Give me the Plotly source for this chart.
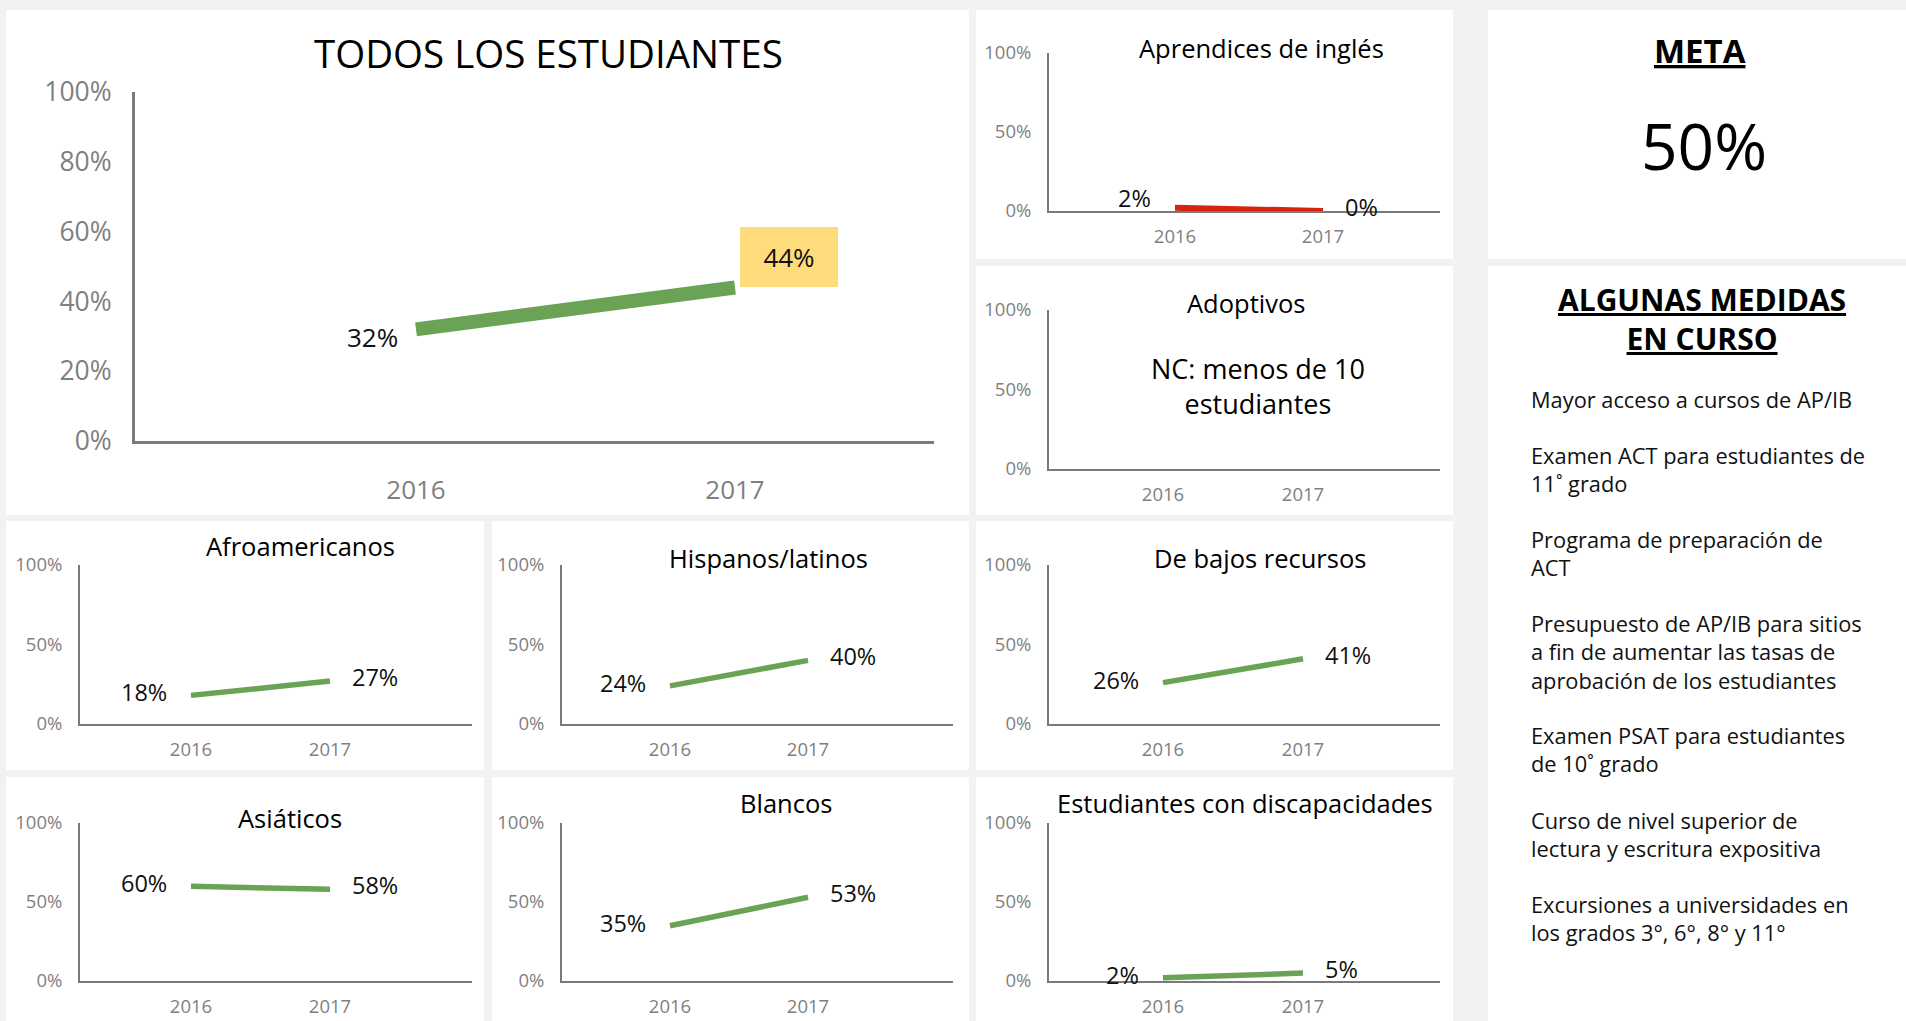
import plotly.graph_objects as go

W, H = 1906, 1021
FONT = "Open Sans"

# ---------------- data ----------------
years = [2016, 2017]
year_labels = ["2016", "2017"]
all_students = [0.32, 0.44]
english_learners = [0.02, 0.00]
afroamericanos = [0.18, 0.27]
hispanos = [0.24, 0.40]
bajos_recursos = [0.26, 0.41]
asiaticos = [0.60, 0.58]
blancos = [0.35, 0.53]
discapacidades = [0.02, 0.05]

main_title = "TODOS LOS ESTUDIANTES"
small_titles = {
    "el": "Aprendices de inglés",
    "adopt": "Adoptivos",
    "afro": "Afroamericanos",
    "hisp": "Hispanos/latinos",
    "low": "De bajos recursos",
    "asia": "Asiáticos",
    "white": "Blancos",
    "disab": "Estudiantes con discapacidades",
}
adopt_note = ["NC: menos de 10", "estudiantes"]
goal_title = "META"
goal_value = "50%"
measures_title = ["ALGUNAS MEDIDAS", "EN CURSO"]
measures = [
    ["Mayor acceso a cursos de AP/IB"],
    ["Examen ACT para estudiantes de", "11˚ grado"],
    ["Programa de preparación de", "ACT"],
    ["Presupuesto de AP/IB para sitios", "a fin de aumentar las tasas de", "aprobación de los estudiantes"],
    ["Examen PSAT para estudiantes", "de 10˚ grado"],
    ["Curso de nivel superior de", "lectura y escritura expositiva"],
    ["Excursiones a universidades en", "los grados 3°, 6°, 8° y 11°"],
]

GREEN = "#6aa355"
RED = "#d8230e"
AXIS = "#7a7a7a"
TICK = "#7f7f7f"
BG = "#f2f2f2"

fig = go.Figure()
shapes = []
annotations = []


def fx(p):
    return p / W


def fy(p):
    return 1 - p / H


# white panels
panels = [
    (6, 10, 969, 515),
    (976, 10, 1453, 259), (976, 266, 1453, 515),
    (6, 521, 484, 770), (492, 521, 969, 770), (976, 521, 1453, 770),
    (6, 777, 484, 1021), (492, 777, 969, 1021), (976, 777, 1453, 1021),
    (1488, 10, 1906, 259), (1488, 266, 1906, 1021),
]
for x0, y0, x1, y1 in panels:
    shapes.append(dict(type="rect", xref="paper", yref="paper", x0=fx(x0), x1=fx(x1),
                       y0=fy(y1), y1=fy(y0), fillcolor="white", line=dict(width=0), layer="below"))

counter = [0]


def add_chart(vals, g, color, lw, ytick_vals, tick_size, xtick_size, axis_w,
              ystand, xstand, label_size=23.5, labels=True, first_dy=3):
    counter[0] += 1
    n = counter[0]
    xa = "x" if n == 1 else f"x{n}"
    ya = "y" if n == 1 else f"y{n}"
    unit = (g["p1"] - g["p0"]) / (years[1] - years[0])
    xmin = years[0] - (g["p0"] - g["left"]) / unit
    xmax = years[0] + (g["right"] - g["p0"]) / unit
    if vals is not None:
        fig.add_trace(go.Scatter(x=years, y=vals, mode="lines", xaxis=xa, yaxis=ya,
                                 line=dict(color=color, width=lw), showlegend=False,
                                 hoverinfo="skip"))
    else:
        fig.add_trace(go.Scatter(x=[], y=[], xaxis=xa, yaxis=ya, showlegend=False))
    xkey = "xaxis" if n == 1 else f"xaxis{n}"
    ykey = "yaxis" if n == 1 else f"yaxis{n}"
    fig.layout[xkey] = dict(domain=[fx(g["left"]), fx(g["right"])], range=[xmin, xmax],
                            anchor=ya, showline=True, linecolor=AXIS, linewidth=axis_w,
                            showgrid=False, zeroline=False, ticks="", automargin=False,
                            tickvals=years, ticktext=year_labels,
                            tickfont=dict(family=FONT, size=xtick_size, color=TICK),
                            ticklabelstandoff=xstand, fixedrange=True)
    fig.layout[ykey] = dict(domain=[fy(g["bottom"]), fy(g["top"])], range=[0, 1],
                            anchor=xa, showline=True, linecolor=AXIS, linewidth=axis_w,
                            showgrid=False, zeroline=False, ticks="", automargin=False,
                            tickvals=ytick_vals, tickformat=".0%",
                            tickfont=dict(family=FONT, size=tick_size, color=TICK),
                            ticklabelstandoff=ystand, fixedrange=True)
    if vals is not None and labels:
        annotations.append(dict(xref=xa, yref=ya, x=years[0], y=vals[0],
                                text=f"{round(vals[0] * 100)}%", showarrow=False,
                                xanchor="right", yanchor="middle", xshift=-22, yshift=first_dy,
                                font=dict(family=FONT, size=label_size, color="#111")))
        annotations.append(dict(xref=xa, yref=ya, x=years[1], y=vals[1],
                                text=f"{round(vals[1] * 100)}%", showarrow=False,
                                xanchor="left", yanchor="middle", xshift=20, yshift=4,
                                font=dict(family=FONT, size=label_size, color="#111")))
    return xa, ya


# ---- main chart ----
main_g = dict(left=135, right=934, top=92, bottom=441, p0=416, p1=735)
mxa, mya = add_chart(all_students, main_g, GREEN, 14, [0, 0.2, 0.4, 0.6, 0.8, 1.0],
                     26.5, 26, 3, 15, 24, labels=False)
annotations.append(dict(xref=mxa, yref=mya, x=years[0], y=all_students[0],
                        text=f"{round(all_students[0] * 100)}%", showarrow=False,
                        xanchor="right", yanchor="middle", xshift=-16, yshift=-8,
                        font=dict(family=FONT, size=26, color="#111")))
annotations.append(dict(xref=mxa, yref=mya, x=years[1], y=all_students[1],
                        text=f"{round(all_students[1] * 100)}%", showarrow=False,
                        xanchor="left", yanchor="middle", xshift=5, yshift=30,
                        width=98, height=60, bgcolor="#ffdc7b", borderwidth=0, borderpad=0,
                        font=dict(family=FONT, size=26, color="#111")))
annotations.append(dict(xref="paper", yref="paper", x=fx(548), y=fy(53), text=main_title,
                        showarrow=False, xanchor="center", yanchor="middle",
                        font=dict(family=FONT, size=38.5, color="#000")))

# ---- small charts ----
colA = dict(left=80, right=472, p0=191, p1=330)
colB = dict(left=562, right=953, p0=670, p1=808)
colC = dict(left=1049, right=1440, p0=1163, p1=1303)
colC_el = dict(left=1049, right=1440, p0=1175, p1=1323)
row1 = dict(top=53, bottom=211)
row2 = dict(top=310, bottom=469)
row3 = dict(top=565, bottom=724)
row4 = dict(top=823, bottom=981)

small = [
    (english_learners, {**colC_el, **row1}, RED, 6, "el", (1261, 48), 10),
    (None, {**colC, **row2}, GREEN, 5.5, "adopt", (1246, 303), 3),
    (afroamericanos, {**colA, **row3}, GREEN, 5.5, "afro", (300, 546), 3),
    (hispanos, {**colB, **row3}, GREEN, 5.5, "hisp", (768, 558), 3),
    (bajos_recursos, {**colC, **row3}, GREEN, 5.5, "low", (1260, 558), 3),
    (asiaticos, {**colA, **row4}, GREEN, 5.5, "asia", (290, 818), 3),
    (blancos, {**colB, **row4}, GREEN, 5.5, "white", (786, 803), 3),
    (discapacidades, {**colC, **row4}, GREEN, 5.5, "disab", (1245, 803), 3),
]
for vals, g, col, lw, key, (tx, ty), dy in small:
    add_chart(vals, g, col, lw, [0, 0.5, 1.0], 18.5, 18.5, 2, 12, 8, first_dy=dy)
    annotations.append(dict(xref="paper", yref="paper", x=fx(tx), y=fy(ty), text=small_titles[key],
                            showarrow=False, xanchor="center", yanchor="middle",
                            font=dict(family=FONT, size=25.5, color="#000")))

annotations.append(dict(xref="paper", yref="paper", x=fx(1258), y=fy(385.5),
                        text="<br>".join(adopt_note), showarrow=False,
                        xanchor="center", yanchor="middle", align="center",
                        font=dict(family=FONT, size=27, color="#000")))

# ---- right column ----
annotations.append(dict(xref="paper", yref="paper", x=fx(1700), y=fy(51),
                        text=f"<b><u>{goal_title}</u></b>", showarrow=False,
                        xanchor="center", yanchor="middle",
                        font=dict(family=FONT, size=33, color="#000")))
annotations.append(dict(xref="paper", yref="paper", x=fx(1704), y=fy(145), text=goal_value,
                        showarrow=False, xanchor="center", yanchor="middle",
                        font=dict(family=FONT, size=64, color="#000")))
annotations.append(dict(xref="paper", yref="paper", x=fx(1702), y=fy(319),
                        text="<br>".join(f"<b><u>{t}</u></b>" for t in measures_title),
                        showarrow=False, xanchor="center", yanchor="middle", align="center",
                        font=dict(family=FONT, size=30, color="#000")))
MS = 21.8
LH = MS * 1.3
k = 0
for item in measures:
    top = 398 + 28.05 * k - LH / 2
    annotations.append(dict(xref="paper", yref="paper", x=fx(1530), y=fy(top),
                            text="<br>".join(item), showarrow=False, xanchor="left",
                            yanchor="top", align="left", borderpad=0,
                            font=dict(family=FONT, size=MS, color="#111")))
    k += len(item) + 1

fig.update_layout(width=W, height=H, margin=dict(l=0, r=0, t=0, b=0, autoexpand=False),
                  paper_bgcolor=BG, plot_bgcolor="rgba(0,0,0,0)",
                  shapes=shapes, annotations=annotations, showlegend=False,
                  font=dict(family=FONT))

fig.write_html("out.html", config={"displayModeBar": False},
               post_script="document.body.style.margin='0';document.body.style.overflow='hidden';")
